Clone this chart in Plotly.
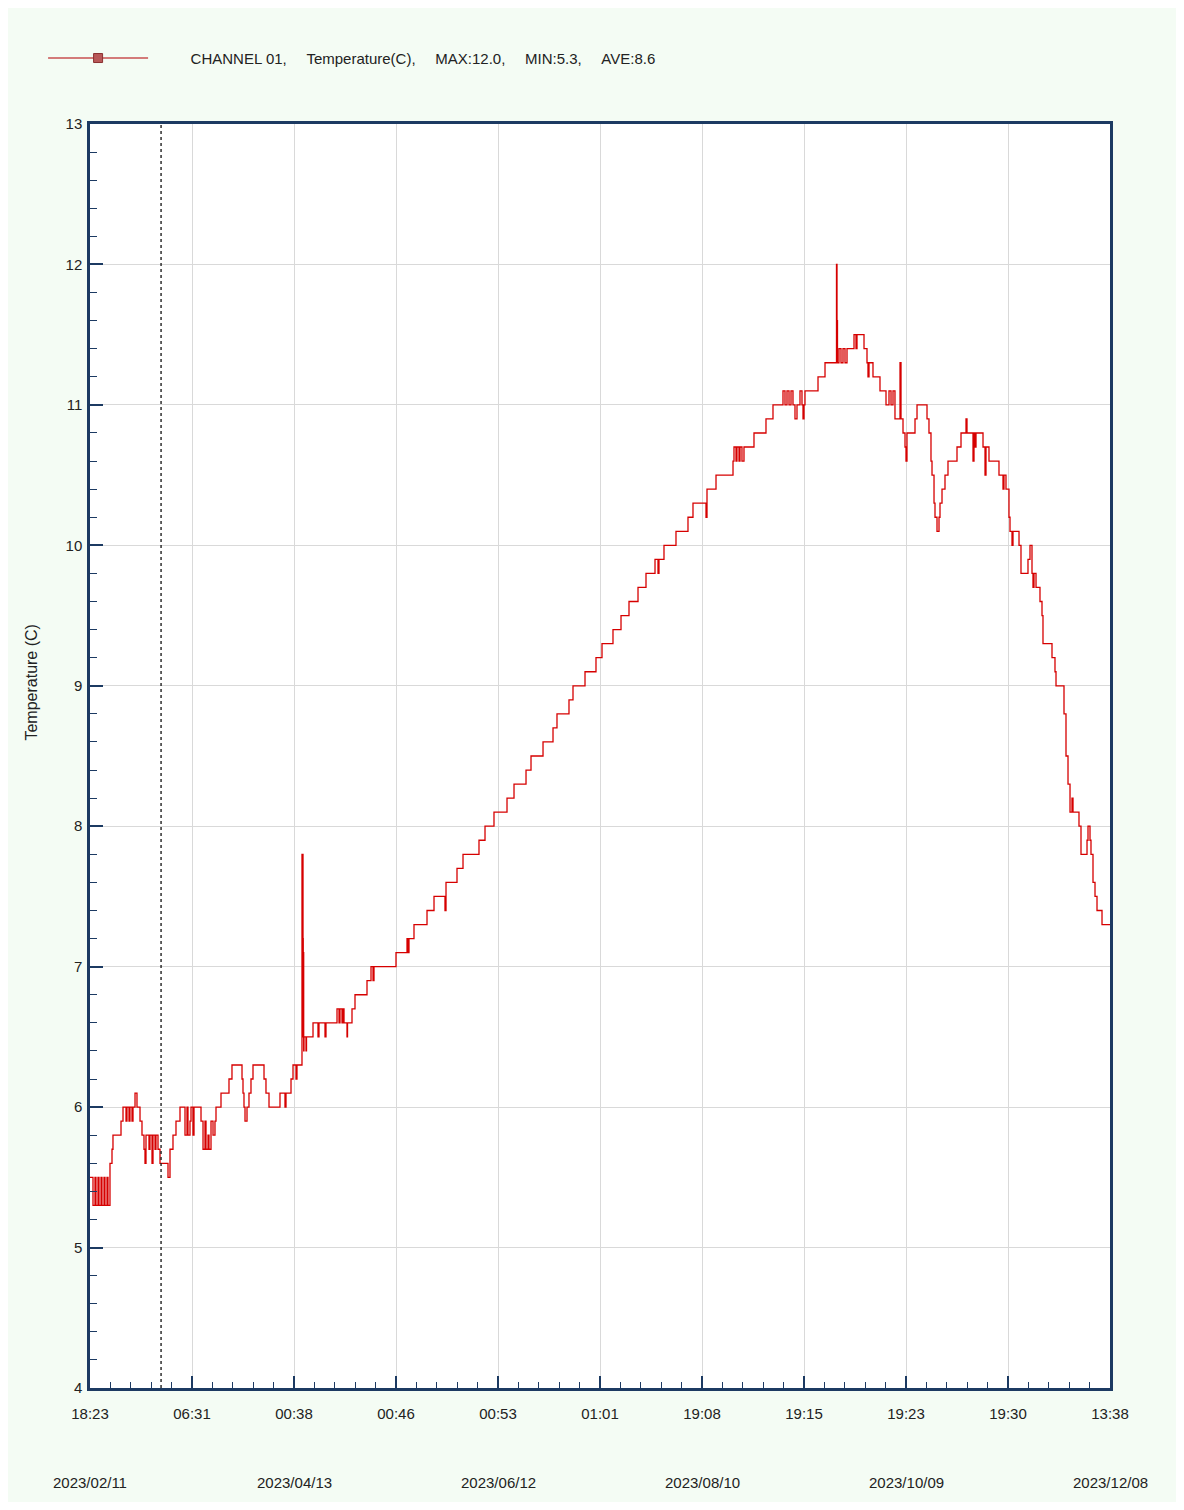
import plotly.graph_objects as go

# elapsed days since 2023/02/11 18:23
day = [0, 0.88, 1.47, 1.76, 2.35, 2.65, 3.24, 3.53, 4.12, 4.41, 5.0, 5.29, 5.88, 6.47, 6.76,
       9.12, 9.71, 10.59, 10.88, 11.47, 11.76, 12.35, 12.65, 13.24, 13.82, 14.71, 15.29, 15.88,
       16.18, 16.47, 17.35, 17.65, 18.24, 18.53, 19.12, 19.41, 20.0, 20.59, 22.94, 23.53, 24.41,
       25.29, 26.47, 27.94, 28.53, 28.82, 29.41, 29.71, 30.29, 30.59, 32.65, 33.24, 33.82, 34.12,
       34.71, 35.0, 35.59, 36.18, 36.76, 37.06, 38.53, 40.88, 41.76, 44.71, 45.0, 45.29, 45.59,
       46.18, 46.76, 47.35, 47.94, 51.18, 51.76, 52.65, 55.88, 57.35, 57.65, 59.12, 59.71, 60.59,
       60.88, 62.35, 62.65, 62.72, 62.79, 62.85, 62.94, 63.53, 63.68, 65.59, 67.06, 67.35, 69.12,
       69.41, 72.65, 73.24, 73.53, 74.12, 74.41, 74.71, 75.59, 75.74, 77.06, 77.94, 81.47, 82.65,
       83.24, 83.53, 90.0, 93.24, 93.53, 93.82, 95.29, 99.12, 101.18, 104.41, 104.71, 107.94,
       109.71, 114.41, 116.18, 118.82, 122.65, 124.71, 128.24, 129.71, 133.24, 136.18, 137.35,
       140.88, 142.06, 145.59, 148.82, 150.59, 153.82, 156.18, 158.53, 161.18, 163.53, 166.18,
       167.06, 167.35, 168.82, 172.35, 175.88, 177.35, 181.18, 181.47, 184.12, 189.12, 189.41,
       190.0, 190.29, 190.88, 191.18, 191.76, 192.35, 195.29, 198.82, 200.88, 203.82, 204.41,
       205.0, 205.59, 206.18, 206.76, 207.35, 207.94, 208.82, 209.41, 209.71, 210.0, 210.29,
       214.12, 216.18, 219.56, 219.71, 219.85, 220.29, 220.88, 221.47, 222.06, 222.65, 224.71,
       225.29, 225.59, 227.65, 228.53, 228.82, 229.12, 230.29, 232.35, 234.12, 235.0, 235.59,
       236.18, 236.76, 238.24, 238.53, 239.12, 239.71, 240.0, 240.29, 242.65, 243.24, 246.18,
       246.76, 247.35, 247.65, 248.24, 248.53, 249.12, 249.71, 250.0, 250.59, 251.47, 252.35,
       255.0, 256.18, 257.65, 257.94, 259.71, 260.0, 260.29, 260.59, 262.65, 263.24, 263.53,
       264.41, 267.35, 268.53, 268.82, 269.41, 270.29, 270.59, 271.18, 271.47, 273.24, 273.82,
       275.88, 276.47, 277.06, 277.35, 277.65, 278.24, 279.41, 280.0, 280.29, 282.94, 283.82,
       284.12, 286.47, 287.06, 287.65, 288.24, 288.82, 289.12, 290.88, 291.47, 293.24, 293.53,
       294.12, 294.41, 295.0, 295.59, 296.18, 297.65, 300.0]

temp = [5.5, 5.3, 5.5, 5.3, 5.5, 5.3, 5.5, 5.3, 5.5, 5.3, 5.5, 5.3, 5.6, 5.7, 5.8,
        5.9, 6.0, 5.9, 6.0, 5.9, 6.0, 5.9, 6.0, 6.1, 6.0, 5.9, 5.8, 5.7,
        5.6, 5.8, 5.7, 5.8, 5.6, 5.8, 5.7, 5.8, 5.7, 5.6, 5.5, 5.7, 5.8,
        5.9, 6.0, 5.8, 6.0, 5.8, 5.9, 6.0, 5.8, 6.0, 5.9, 5.7, 5.9, 5.7,
        5.8, 5.7, 5.9, 5.8, 5.9, 6.0, 6.1, 6.2, 6.3, 6.2, 6.1, 6.0, 5.9,
        6.0, 6.1, 6.2, 6.3, 6.2, 6.1, 6.0, 6.1, 6.0, 6.1, 6.2, 6.3, 6.2,
        6.3, 7.8, 7.2, 6.5, 7.1, 6.4, 6.5, 6.4, 6.5, 6.6, 6.5, 6.6, 6.5,
        6.6, 6.7, 6.6, 6.7, 6.6, 6.7, 6.6, 6.5, 6.6, 6.7, 6.8, 6.9, 7.0,
        6.9, 7.0, 7.1, 7.2, 7.1, 7.2, 7.3, 7.4, 7.5, 7.4, 7.6, 7.7,
        7.8, 7.9, 8.0, 8.1, 8.2, 8.3, 8.4, 8.5, 8.6, 8.7, 8.8,
        8.9, 9.0, 9.1, 9.2, 9.3, 9.4, 9.5, 9.6, 9.7, 9.8, 9.9,
        9.8, 9.9, 10.0, 10.1, 10.2, 10.3, 10.2, 10.4, 10.5, 10.6, 10.7,
        10.6, 10.7, 10.6, 10.7, 10.6, 10.7, 10.8, 10.9, 11.0, 11.1, 11.0,
        11.1, 11.0, 11.1, 11.0, 10.9, 11.0, 11.1, 11.0, 10.9, 11.0, 11.1,
        11.2, 11.3, 12.0, 11.6, 11.3, 11.4, 11.3, 11.4, 11.3, 11.4, 11.5,
        11.4, 11.5, 11.4, 11.3, 11.2, 11.3, 11.2, 11.1, 11.0, 11.1, 11.0,
        11.1, 10.9, 11.3, 10.9, 10.8, 10.7, 10.6, 10.8, 10.9, 11.0, 10.9,
        10.8, 10.6, 10.5, 10.3, 10.2, 10.1, 10.2, 10.3, 10.4, 10.5, 10.6,
        10.7, 10.8, 10.9, 10.8, 10.6, 10.8, 10.7, 10.8, 10.7, 10.5, 10.7,
        10.6, 10.5, 10.4, 10.5, 10.4, 10.2, 10.1, 10.0, 10.1, 10.0, 9.8,
        9.9, 10.0, 9.8, 9.7, 9.8, 9.7, 9.6, 9.5, 9.3, 9.2, 9.1,
        9.0, 8.8, 8.5, 8.3, 8.1, 8.2, 8.1, 8.0, 7.8, 7.9, 8.0,
        7.9, 7.8, 7.6, 7.5, 7.4, 7.3, 7.3]

tick_days = [0, 30, 60, 90, 120, 150, 180, 210, 240, 270, 300]
tick_times = ["18:23", "06:31", "00:38", "00:46", "00:53", "01:01",
              "19:08", "19:15", "19:23", "19:30", "13:38"]
date_days = [0, 60, 120, 180, 240, 300]
date_labels = ["2023/02/11", "2023/04/13", "2023/06/12",
               "2023/08/10", "2023/10/09", "2023/12/08"]
cursor_day = 20.9

SP = "\u00a0" * 4 + "\u2009"
legend_text = ("\u00a0" * 9 + "CHANNEL 01," + SP + "Temperature(C)," + SP +
               "MAX:12.0," + SP + "MIN:5.3," + SP + "AVE:8.6")

FONT = "Arial, Liberation Sans, sans-serif"
AXIS = "#1C3A62"
BG = "#F4FCF4"
TXT = "#222222"

fig = go.Figure()
fig.add_trace(go.Scatter(x=day, y=temp, mode="lines", line=dict(color="#D60000", width=1.3, shape="hv"),
                         showlegend=False, hoverinfo="x+y"))
fig.add_trace(go.Scatter(x=[None], y=[None], mode="lines+markers", name=legend_text,
                         line=dict(color="#C85050", width=1.5),
                         marker=dict(symbol="square", size=9, color="#B85858",
                                     line=dict(color="#8A3030", width=1))))

fig.add_shape(type="line", xref="x", yref="paper", x0=cursor_day, x1=cursor_day, y0=0, y1=1,
              line=dict(color="#202020", width=1.4, dash="dot"), layer="above")

for d, lab in zip(date_days, date_labels):
    fig.add_annotation(x=d, y=-0.075, xref="x", yref="paper", text=lab, showarrow=False,
                       font=dict(family=FONT, size=15, color=TXT), xanchor="center", yanchor="middle")

fig.add_annotation(x=-0.057, y=0.558, xref="paper", yref="paper", text="Temperature (C)",
                   textangle=-90, showarrow=False, font=dict(family=FONT, size=16, color=TXT),
                   xanchor="center", yanchor="middle")

fig.update_layout(
    width=1168, height=1494,
    margin=dict(l=82, r=66, t=116, b=114),
    paper_bgcolor=BG, plot_bgcolor="white",
    font=dict(family=FONT, size=15, color=TXT),
    legend=dict(x=-0.046, y=1.052, xanchor="left", yanchor="middle", orientation="h",
                itemwidth=100, bgcolor="rgba(0,0,0,0)", font=dict(family=FONT, size=15, color=TXT)),
    xaxis=dict(range=[0, 300], tickmode="array", tickvals=tick_days, ticktext=tick_times,
               showline=True, linecolor=AXIS, linewidth=2.5, mirror=True,
               ticks="inside", ticklen=12, tickcolor=AXIS, tickwidth=1.5,
               showgrid=True, gridcolor="#D9D9D9", gridwidth=1, zeroline=False,
               ticklabelstandoff=10,
               minor=dict(dtick=6, tick0=0, ticks="inside", ticklen=6, tickcolor=AXIS, tickwidth=1.2,
                          showgrid=False)),
    yaxis=dict(range=[4, 13], dtick=1, tick0=4,
               showline=True, linecolor=AXIS, linewidth=2.5, mirror=True,
               ticks="inside", ticklen=13, tickcolor=AXIS, tickwidth=1.5,
               showgrid=True, gridcolor="#D9D9D9", gridwidth=1, zeroline=False,
               ticklabelstandoff=2,
               minor=dict(dtick=0.2, tick0=4, ticks="inside", ticklen=7, tickcolor=AXIS, tickwidth=1.2,
                          showgrid=False)),
)

fig.write_html("out.html")
